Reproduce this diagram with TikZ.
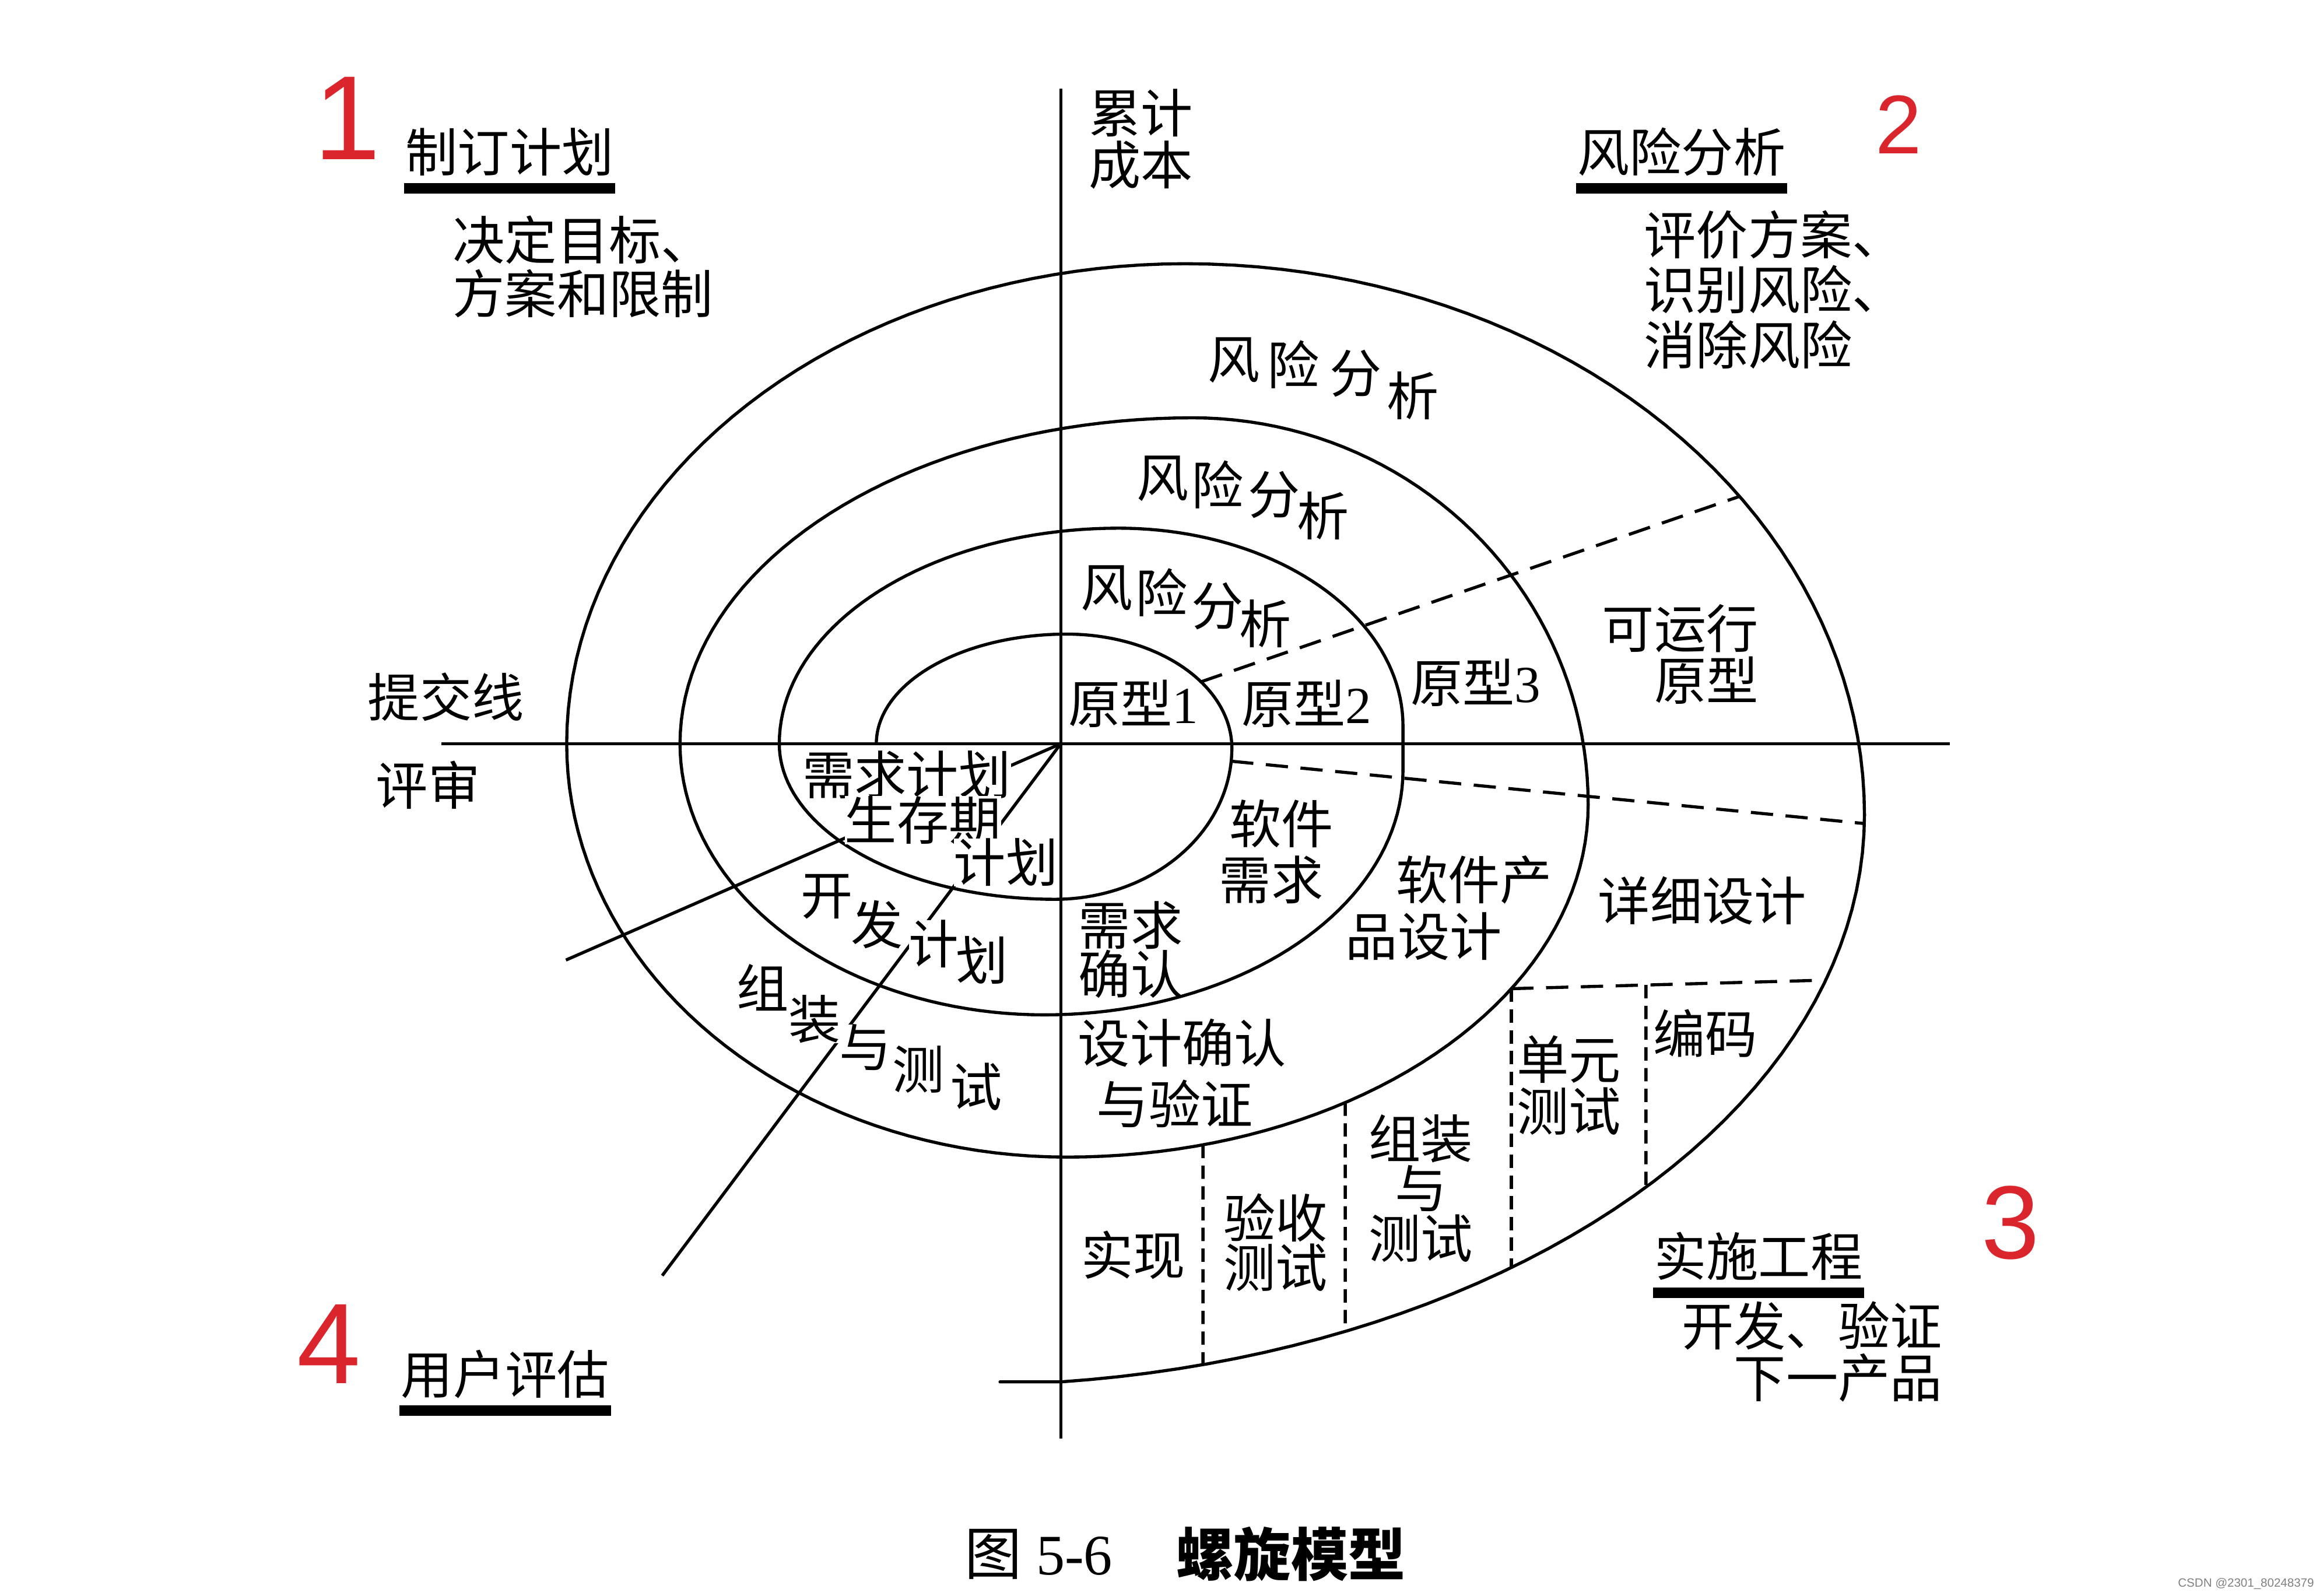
\documentclass[tikz,border=0pt]{standalone}
\usepackage{fontspec}
\setmainfont{Liberation Serif}
\newfontfamily\zhfont{Noto Sans CJK SC}
\newfontfamily\handfont{Liberation Sans}
\usetikzlibrary{intersections}
\definecolor{markred}{RGB}{218,37,45}
\newcommand\zh[1]{\fontsize{10pt}{#1}\selectfont\lineskiplimit=-10pt\relax\zhfont}

\begin{document}
\begin{tikzpicture}
	[x=0.1mm, y=-0.1mm, line width=0.6pt,
	spiral/.style={line cap=round, line join=round, samples=45},
	lbl/.style={font=\zh{10.4pt}, inner sep=0pt, align=center},
	mask/.style={lbl, fill=white},
	bar/.style={line width=0.7mm},
	sep/.style={dash pattern=on 1.5mm off 0.85mm},
	vsep/.style={dash pattern=on 0.9mm off 0.5mm},
	num/.style={text=markred, inner sep=0pt}]
	\useasboundingbox (0,0) rectangle (1568,1077);

	%Axis
	\coordinate (o) at (716,502);
	\coordinate (xl) at (298,502);
	\coordinate (xr) at (1316,502);
	\coordinate (yt) at (716,60);
	\coordinate (yb) at (716,971);
	\draw (xl) -- (xr);
	\draw (yt) -- (yb);

	%Spiral, quarter ellipses joined at their extreme points
	\draw[spiral, name path=a1] plot[domain=180:270] ({720+128.5*cos(\x)},{502+74*sin(\x)}) -- plot[domain=270:360] ({720+111.5*cos(\x)},{505+77*sin(\x)});
	\draw[spiral, name path=a2] plot[domain=0:90] ({712+119.5*cos(\x)},{505+102*sin(\x)}) -- plot[domain=90:180] ({712+186*cos(\x)},{502+105*sin(\x)});
	\draw[spiral, name path=a3] plot[domain=180:270] ({755+229*cos(\x)},{502+145.5*sin(\x)}) -- plot[domain=270:360] ({755+192*cos(\x)},{490+133.5*sin(\x)}) -- (947,520);
	\draw[spiral, name path=a4] plot[domain=0:90] ({705+242*cos(\x)},{520+165*sin(\x)}) -- plot[domain=90:180] ({705+246*cos(\x)},{502+183*sin(\x)});
	\draw[spiral, name path=a5] plot[domain=180:270] ({805+346*cos(\x)},{502+220*sin(\x)}) -- plot[domain=270:360] ({805+267*cos(\x)},{543+261*sin(\x)});
	\draw[spiral, name path=a6] plot[domain=0:90] ({720+352*cos(\x)},{543+238*sin(\x)}) -- plot[domain=90:180] ({720+337.5*cos(\x)},{502+279*sin(\x)});
	\draw[spiral, name path=a7] plot[domain=180:270] ({800+417.5*cos(\x)},{502+324*sin(\x)}) -- plot[domain=270:360] ({800+458.5*cos(\x)},{550+372*sin(\x)});
	\draw[spiral, name path=a8] plot[domain=0:83.77] ({650+608.5*cos(\x)},{550+385*sin(\x)}) -- (675,932.7);

	%Review lines from the centre
	\coordinate (rev1) at (382,648);
	\coordinate (rev2) at (447,861);
	\draw (o) -- (rev1);
	\draw (o) -- (rev2);

	%Dashed separators
	\path[name path=h1] (790,467.3) -- (1195,327.9);
	\path[name intersections={of=a1 and h1, by=d1s}];
	\path[name intersections={of=a7 and h1, by=d1e}];
	\draw[sep] (d1s) -- (d1e);

	\path[name path=h2] (820,512.7) -- (1275,557.5);
	\path[name intersections={of=a2 and h2, by=d2s}];
	\path[name intersections={of=a8 and h2, by=d2e}];
	\draw[sep] (d2s) -- (d2e);

	\path[name path=h3] (995,668) -- (1260,660.8);
	\path[name intersections={of=a6 and h3, by=d3s}];
	\path[name intersections={of=a8 and h3, by=d3e}];
	\draw[sep, name path=d3] (d3s) -- (d3e);

	\path[name path=v1] (1111,600) -- (1111,850);
	\path[name intersections={of=d3 and v1, by=v1t}];
	\path[name intersections={of=a8 and v1, by=v1b}];
	\draw[vsep] (v1t) -- (v1b);

	\path[name path=v2] (d3s) -- ++(0,300);
	\path[name intersections={of=a8 and v2, by=v2b}];
	\draw[vsep] (d3s) -- (v2b);

	\path[name path=v3] (908,700) -- (908,960);
	\path[name intersections={of=a6 and v3, by=v3t}];
	\path[name intersections={of=a8 and v3, by=v3b}];
	\draw[vsep] (v3t) -- (v3b);

	\path[name path=v4] (812,740) -- (812,960);
	\path[name intersections={of=a6 and v4, by=v4t}];
	\path[name intersections={of=a8 and v4, by=v4b}];
	\draw[vsep] (v4t) -- (v4b);

	%Quadrant headings
	\node[lbl] (plan) at (344,102.5) {制订计划};
	\node[lbl] (risk) at (1135,102.5) {风险分析};
	\node[lbl] (eng) at (1187,848) {实施工程};
	\node[lbl] (eval) at (341,927.5) {用户评估};
	\draw[bar] ([yshift=-0.73mm]plan.south west) -- ([yshift=-0.73mm]plan.south east);
	\draw[bar] ([yshift=-0.73mm]risk.south west) -- ([yshift=-0.73mm]risk.south east);
	\draw[bar] ([yshift=-0.73mm]eng.south west) -- ([yshift=-0.73mm]eng.south east);
	\draw[bar] ([yshift=-0.73mm]eval.south west) -- ([yshift=-0.73mm]eval.south east);

	\node[lbl, align=left, anchor=west] (plannote) at (304.6,180) {决定目标、\\方案和限制};
	\node[lbl, align=left, anchor=west, font=\zh{10.6pt}] (risknote) at (1108.6,195.5) {评价方案、\\识别风险、\\消除风险};
	\node[lbl, align=right, anchor=east, font=\zh{10pt}] (engnote) at (1312,912.4) {开发、验证\\下一产品};
	\node[lbl, align=left, anchor=west, font=\zh{10pt}] (cost) at (734,94) {累计\\成本};
	\node[lbl] (submit) at (301,470.5) {提交线};
	\node[lbl] (review) at (289,530) {评审};

	%Risk analysis, stepped along the rings
	\node[lbl] (ra1) at (833,243) {风};
	\node[lbl] (ra2) at (873,246) {险};
	\node[lbl] (ra3) at (915,252) {分};
	\node[lbl] (ra4) at (953.5,267) {析};
	\node[lbl] (rb1) at (785,323) {风};
	\node[lbl] (rb2) at (822,327) {险};
	\node[lbl] (rb3) at (860,334) {分};
	\node[lbl] (rb4) at (893,348) {析};
	\node[lbl] (rc1) at (747,397) {风};
	\node[lbl] (rc2) at (784,400) {险};
	\node[lbl] (rc3) at (822,409) {分};
	\node[lbl] (rc4) at (854,421) {析};

	%Prototypes
	\node[lbl] (proto1) at (765,475) {原型{\rmfamily 1}};
	\node[lbl] (proto2) at (882,475) {原型{\rmfamily 2}};
	\node[lbl] (proto3) at (996,461) {原型{\rmfamily 3}};
	\node[lbl, align=right, anchor=east, font=\zh{10pt}] (proto4) at (1188,441.5) {可运行\\原型};

	%Engineering steps
	\node[lbl] (swreq1) at (865,556) {软件};
	\node[lbl] (swreq2) at (858,594) {需求};
	\node[lbl] (prod1) at (995,594) {软件产};
	\node[lbl] (prod2) at (961,632) {品设计};
	\node[lbl] (detail) at (1149,608) {详细设计};
	\node[lbl] (code) at (1151,697.5) {编码};
	\node[lbl, font=\zh{9.4pt}, align=left, anchor=west] (reqok) at (727,641) {需求\\确认};
	\node[lbl] (desok1) at (798,704) {设计确认};
	\node[lbl] (desok2) at (793,745) {与验证};
	\node[lbl, font=\zh{10pt}] (unit) at (1059,732.5) {单元\\测试};
	\node[lbl, font=\zh{9.6pt}] (integ) at (959,802) {组装\\与\\测试};
	\node[lbl, font=\zh{9.6pt}] (accept) at (861,838.6) {验收\\测试};
	\node[lbl] (impl) at (765,847) {实现};

	%Plans in the lower left
	\node[mask] (plreq) at (612,523) {需求计划};
	\node[mask] (pllife1) at (623,553.6) {生存期};
	\node[mask] (pllife2) at (679,582) {计划};
	\node[mask] (pd1) at (558,605) {开};
	\node[mask] (pd2) at (592,624) {发};
	\node[mask] (pd3) at (631,637) {计};
	\node[mask] (pd4) at (663,648) {划};
	\node[mask] (pt1) at (515,666.5) {组};
	\node[mask] (pt2) at (550,688) {装};
	\node[mask] (pt3) at (584,707) {与};
	\node[mask] (pt4) at (620,722) {测};
	\node[mask] (pt5) at (659,733.5) {试};

	%Hand written quadrant numbers
	\node[num, font=\handfont\fontsize{23pt}{23pt}\selectfont] (n1) at (234.6,80) {1};
	\node[num, font=\handfont\fontsize{16pt}{16pt}\selectfont] (n2) at (1281.5,84) {2};
	\node[num, font=\handfont\fontsize{20pt}{20pt}\selectfont] (n3) at (1357,825.5) {3};
	\node[num, font=\handfont\fontsize{22pt}{22pt}\selectfont] (n4) at (222,907) {4};

	%Caption
	\node[anchor=west, inner sep=0pt, font=\fontsize{11pt}{11pt}\selectfont] (fig) at (650,1049) {{\zhfont 图} 5-6};
	\node[anchor=west, inner sep=0pt, font=\fontsize{11pt}{11pt}\selectfont\zhfont\bfseries] (title) at (793,1049) {螺旋模型};
	\node[anchor=east, inner sep=0pt, text=gray, font=\handfont\fontsize{2.3pt}{2.3pt}\selectfont] (wm) at (1563,1069) {CSDN @2301\_80248379};
\end{tikzpicture}
\end{document}
